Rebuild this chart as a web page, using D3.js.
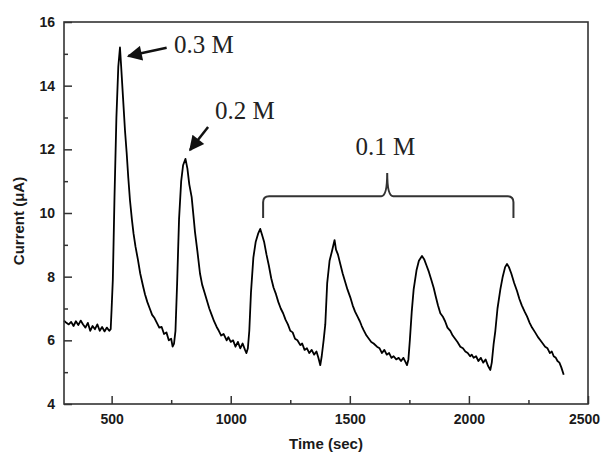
<!DOCTYPE html>
<html>
<head>
<meta charset="utf-8">
<script src="https://cdn.jsdelivr.net/npm/d3@7"></script>
<style>
  body { margin: 0; background: #fff; }
  svg { display: block; }
</style>
</head>
<body>
<svg id="chart" width="601" height="453"></svg>
<script>
// time (sec) and current (uA)
const time = [
  300, 310, 320, 330, 340, 350, 360, 370, 380, 390, 400, 410, 420, 430, 440, 450, 460, 470, 480, 490, 496,
  500, 505, 512, 520, 528, 535,
  540, 548, 556, 563, 570, 577, 585, 592, 600, 610, 620, 632, 640, 650, 660, 670, 680, 690, 700, 710, 720, 730, 740, 750, 756, 762,
  768, 775, 783, 792, 800, 810, 818,
  826, 836, 845, 850, 860, 871, 880, 890, 900, 910, 920, 930, 941, 950, 960, 970, 983, 990, 1000, 1010, 1020, 1030, 1040, 1050, 1060, 1066, 1072,
  1078, 1085, 1095, 1105, 1115, 1124, 1132,
  1140, 1150, 1160, 1170, 1180, 1190, 1200, 1210, 1220, 1230, 1240, 1250, 1260, 1270, 1280, 1292, 1300, 1310, 1320, 1330, 1340, 1350, 1360, 1368, 1376, 1382,
  1390, 1397, 1405, 1415, 1425, 1436, 1442,
  1450, 1460, 1470, 1480, 1490, 1502, 1512, 1522, 1532, 1542, 1550, 1558, 1570, 1580, 1590, 1600, 1614, 1625, 1635, 1645, 1655, 1665, 1675, 1684, 1695, 1705, 1715, 1725, 1735, 1740, 1746,
  1752, 1760, 1768, 1780, 1790, 1803, 1812,
  1822, 1832, 1842, 1852, 1860, 1870, 1880, 1890, 1900, 1910, 1922, 1932, 1942, 1952, 1964, 1975, 1985, 1995, 2005, 2012, 2020, 2030, 2040, 2050, 2060, 2070, 2080, 2090, 2096,
  2104, 2111, 2120, 2132, 2142, 2152, 2160, 2168,
  2178, 2190, 2202, 2212, 2222, 2234, 2244, 2255, 2265, 2278, 2290, 2300, 2310, 2320, 2330, 2340, 2348, 2356, 2365, 2372, 2380, 2388, 2398
];
const current = [
  6.62, 6.55, 6.50, 6.58, 6.45, 6.60, 6.48, 6.62, 6.50, 6.40, 6.55, 6.30, 6.45, 6.35, 6.50, 6.30, 6.42, 6.28, 6.40, 6.30, 6.35,
  7.00, 7.90, 10.5, 13.0, 14.6, 15.2,
  14.6, 13.6, 12.6, 11.9, 11.1, 10.4, 9.80, 9.35, 8.95, 8.55, 8.10, 7.70, 7.45, 7.20, 7.00, 6.80, 6.70, 6.55, 6.40, 6.42, 6.20, 6.25, 6.00, 6.05, 5.80, 5.90,
  6.30, 7.80, 9.80, 11.0, 11.5, 11.7, 11.4,
  10.9, 10.5, 9.80, 9.40, 8.80, 8.10, 7.75, 7.50, 7.25, 7.00, 6.80, 6.60, 6.42, 6.30, 6.15, 6.20, 6.00, 6.10, 5.95, 6.00, 5.80, 5.95, 5.75, 5.90, 5.70, 5.60, 5.75,
  6.30, 7.50, 8.60, 9.10, 9.35, 9.50, 9.30,
  9.10, 8.70, 8.35, 7.95, 7.65, 7.45, 7.20, 7.00, 6.85, 6.65, 6.50, 6.30, 6.25, 6.05, 6.00, 5.85, 5.90, 5.70, 5.75, 5.60, 5.70, 5.55, 5.65, 5.45, 5.22, 5.50,
  6.00, 6.50, 7.80, 8.50, 8.80, 9.15, 8.85,
  8.70, 8.40, 8.10, 7.85, 7.60, 7.35, 7.10, 6.90, 6.75, 6.60, 6.45, 6.32, 6.15, 6.05, 5.95, 5.90, 5.80, 5.75, 5.60, 5.70, 5.55, 5.60, 5.45, 5.50, 5.40, 5.45, 5.35, 5.45, 5.30, 5.22, 5.40,
  6.00, 6.90, 7.60, 8.20, 8.50, 8.65, 8.55,
  8.35, 8.15, 7.90, 7.65, 7.40, 7.10, 6.85, 6.75, 6.60, 6.40, 6.30, 6.15, 6.05, 5.95, 5.80, 5.75, 5.65, 5.60, 5.50, 5.55, 5.45, 5.50, 5.35, 5.45, 5.30, 5.40, 5.20, 5.07, 5.30,
  5.90, 6.30, 7.00, 7.60, 8.00, 8.30, 8.40, 8.30,
  8.10, 7.80, 7.55, 7.30, 7.10, 6.90, 6.75, 6.55, 6.40, 6.25, 6.10, 6.00, 5.90, 5.80, 5.75, 5.60, 5.65, 5.50, 5.45, 5.35, 5.30, 5.15, 4.92
];

const xTicks = [500, 1000, 1500, 2000, 2500];
const xMinor = [750, 1250, 1750, 2250];
const yTicks = [4, 6, 8, 10, 12, 14, 16];
const yMinor = [5, 7, 9, 11, 13, 15];

// annotation labels, in data units
const labels = [
  { text: '0.3 M', t: 762, i: 15.03, anchor: 'start' },
  { text: '0.2 M', t: 934, i: 12.95, anchor: 'start' },
  { text: '0.1 M', t: 1649, i: 11.82, anchor: 'middle' }
];
const arrows = [
  { t0: 731, i0: 15.19, t1: 570, i1: 14.93 },
  { t0: 905, i0: 12.70, t1: 829, i1: 11.98 }
];
const bracket = { tLeft: 1136, tMid: 1657, tRight: 2187, iBar: 10.53, iEnd: 9.84, iTip: 11.26 };

const svg = d3.select('#chart');
const margin = { top: 22, right: 13, bottom: 49, left: 64 };
const width = 601 - margin.left - margin.right;
const height = 453 - margin.top - margin.bottom;

const x = d3.scaleLinear().domain([300, 2500]).range([0, width]);
const y = d3.scaleLinear().domain([4, 16]).range([height, 0]);

const g = svg.append('g')
  .attr('transform', `translate(${margin.left},${margin.top})`);

const axisColor = '#333';

// trace
const data = time.map((t, k) => ({ t, i: current[k] }));
g.append('path')
  .datum(data)
  .attr('fill', 'none')
  .attr('stroke', '#000')
  .attr('stroke-width', 1.8)
  .attr('stroke-linejoin', 'round')
  .attr('d', d3.line().x(d => x(d.t)).y(d => y(d.i)));

// axes, ticks point inward
const xAxis = g.append('g')
  .attr('transform', `translate(0,${height})`)
  .call(d3.axisBottom(x).tickValues(xTicks).tickSize(-8).tickPadding(10).tickFormat(d3.format('d')));
const xAxisMinor = g.append('g')
  .attr('transform', `translate(0,${height})`)
  .call(d3.axisBottom(x).tickValues(xMinor).tickSize(-4).tickFormat(''));
const yAxis = g.append('g')
  .call(d3.axisLeft(y).tickValues(yTicks).tickSize(-8).tickPadding(9).tickFormat(d3.format('d')));
const yAxisMinor = g.append('g')
  .call(d3.axisLeft(y).tickValues(yMinor).tickSize(-4).tickFormat(''));

[xAxis, xAxisMinor, yAxis, yAxisMinor].forEach(a => {
  a.select('.domain').remove();
  a.selectAll('line').attr('stroke', axisColor).attr('stroke-width', 1.5);
  a.selectAll('text')
    .attr('fill', '#1a1a1a')
    .style('font-family', 'Liberation Sans, Arial, sans-serif')
    .style('font-size', '14px')
    .style('font-weight', 'bold');
});

// last x label sits at the page edge, nudge it in
xAxis.selectAll('.tick text').filter(d => d === 2500).attr('dx', -4);

// frame
g.append('rect')
  .attr('x', 0)
  .attr('y', 0)
  .attr('width', width)
  .attr('height', height)
  .attr('fill', 'none')
  .attr('stroke', axisColor)
  .attr('stroke-width', 1.6);

// axis titles
svg.append('text')
  .attr('x', margin.left + width / 2)
  .attr('y', 449)
  .attr('text-anchor', 'middle')
  .attr('fill', '#1a1a1a')
  .style('font-family', 'Liberation Sans, Arial, sans-serif')
  .style('font-size', '15px')
  .style('font-weight', 'bold')
  .text('Time (sec)');

svg.append('text')
  .attr('transform', `translate(24, ${margin.top + height / 2 + 8}) rotate(-90)`)
  .attr('text-anchor', 'middle')
  .attr('fill', '#1a1a1a')
  .style('font-family', 'Liberation Sans, Arial, sans-serif')
  .style('font-size', '15px')
  .style('font-weight', 'bold')
  .text('Current (\u03bcA)');

// annotations
svg.append('defs').append('marker')
  .attr('id', 'head')
  .attr('viewBox', '0 0 10 10')
  .attr('refX', 9)
  .attr('refY', 5)
  .attr('markerWidth', 7)
  .attr('markerHeight', 6)
  .attr('markerUnits', 'strokeWidth')
  .attr('orient', 'auto')
  .append('path')
  .attr('d', 'M0,0 L10,5 L0,10 Z')
  .attr('fill', '#111');

g.selectAll('.arrow')
  .data(arrows)
  .enter()
  .append('line')
  .attr('class', 'arrow')
  .attr('x1', d => x(d.t0))
  .attr('y1', d => y(d.i0))
  .attr('x2', d => x(d.t1))
  .attr('y2', d => y(d.i1))
  .attr('stroke', '#111')
  .attr('stroke-width', 2.5)
  .attr('marker-end', 'url(#head)');

g.selectAll('.note')
  .data(labels)
  .enter()
  .append('text')
  .attr('class', 'note')
  .attr('x', d => x(d.t))
  .attr('y', d => y(d.i))
  .attr('text-anchor', d => d.anchor)
  .attr('fill', '#222')
  .style('font-family', 'Liberation Serif, Times New Roman, serif')
  .style('font-size', '25px')
  .text(d => d.text);

const bl = x(bracket.tLeft), bm = x(bracket.tMid), br = x(bracket.tRight);
const by = y(bracket.iBar), be = y(bracket.iEnd), bt = y(bracket.iTip);
const r = 6;
const bp = d3.path();
bp.moveTo(bl, be);
bp.lineTo(bl, by + r);
bp.quadraticCurveTo(bl, by, bl + r, by);
bp.lineTo(bm - r, by);
bp.quadraticCurveTo(bm, by, bm, bt);
bp.quadraticCurveTo(bm, by, bm + r, by);
bp.lineTo(br - r, by);
bp.quadraticCurveTo(br, by, br, by + r);
bp.lineTo(br, be);
g.append('path')
  .attr('d', bp.toString())
  .attr('fill', 'none')
  .attr('stroke', '#333')
  .attr('stroke-width', 2);
</script>
</body>
</html>
